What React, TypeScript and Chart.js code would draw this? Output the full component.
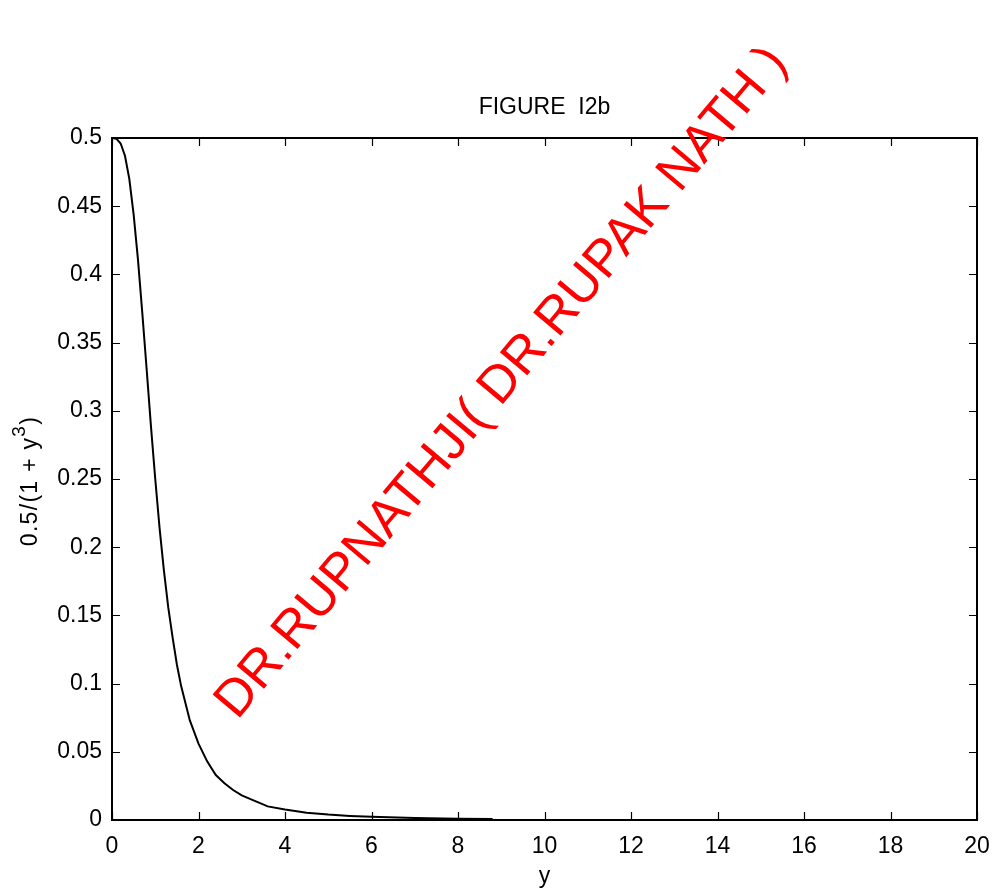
import React, { useEffect, useRef } from "react";
import { Chart, registerables } from "chart.js";

Chart.register(...registerables);

const xValues = [0, 0.1, 0.2, 0.3, 0.4, 0.5, 0.6, 0.7, 0.8, 0.9, 1.0, 1.1, 1.2, 1.3, 1.4, 1.5, 1.6, 1.8, 2.0, 2.2, 2.4, 2.6, 2.8, 3.0, 3.3, 3.6, 4.0, 4.5, 5.0, 5.5, 6.0, 7.0, 8.0, 8.8];
const yValues = [0.5, 0.4995, 0.496, 0.487, 0.47, 0.444, 0.411, 0.372, 0.331, 0.289, 0.25, 0.214, 0.183, 0.156, 0.134, 0.114, 0.098, 0.073, 0.056, 0.043, 0.033, 0.027, 0.022, 0.018, 0.014, 0.01, 0.0077, 0.0054, 0.004, 0.003, 0.0023, 0.0015, 0.001, 0.0007];
const xTicks = [0, 2, 4, 6, 8, 10, 12, 14, 16, 18, 20];
const yTicks = [0, 0.05, 0.1, 0.15, 0.2, 0.25, 0.3, 0.35, 0.4, 0.45, 0.5];
const titleText = "FIGURE  I2b";
const xLabel = "y";
const yLabelMain = "0.5/(1 + y";
const yLabelSup = "3";
const yLabelEnd = ")";
const watermark = "DR.RUPNATHJI( DR.RUPAK NATH )";

const FONT = "'Liberation Sans', Arial, Helvetica, sans-serif";

const decorPlugin = {
  id: "decor",
  afterDraw(chart: any) {
    const { ctx, chartArea } = chart;
    const { left, right, top, bottom } = chartArea;
    const xs = chart.scales.x;
    const ys = chart.scales.y;
    ctx.save();
    ctx.strokeStyle = "#000";
    ctx.lineWidth = 2;
    ctx.strokeRect(left, top, right - left, bottom - top);
    const tl = 8;
    ctx.beginPath();
    xTicks.forEach((v) => {
      const px = Math.round(xs.getPixelForValue(v)) + 0.5;
      ctx.moveTo(px, bottom);
      ctx.lineTo(px, bottom - tl);
      ctx.moveTo(px, top);
      ctx.lineTo(px, top + tl);
    });
    yTicks.forEach((v) => {
      const py = Math.round(ys.getPixelForValue(v)) + 0.5;
      ctx.moveTo(left, py);
      ctx.lineTo(left + tl, py);
      ctx.moveTo(right, py);
      ctx.lineTo(right - tl, py);
    });
    ctx.lineWidth = 1.2;
    ctx.stroke();

    // title
    ctx.fillStyle = "#000";
    ctx.font = `23px ${FONT}`;
    ctx.textAlign = "center";
    ctx.textBaseline = "middle";
    ctx.fillText(titleText, (left + right) / 2, 108);

    // y label
    ctx.save();
    ctx.translate(37, 481);
    ctx.rotate(-Math.PI / 2);
    (ctx as any).letterSpacing = "1.3px";
    ctx.font = `23px ${FONT}`;
    const w1 = ctx.measureText(yLabelMain).width;
    ctx.font = `19px ${FONT}`;
    const w2 = ctx.measureText(yLabelSup).width;
    ctx.font = `23px ${FONT}`;
    const w3 = ctx.measureText(yLabelEnd).width;
    const total = w1 + w2 + w3;
    const x0 = -total / 2;
    ctx.textAlign = "left";
    ctx.textBaseline = "alphabetic";
    ctx.fillText(yLabelMain, x0, 0);
    ctx.font = `19px ${FONT}`;
    ctx.fillText(yLabelSup, x0 + w1, -12);
    ctx.font = `23px ${FONT}`;
    ctx.fillText(yLabelEnd, x0 + w1 + w2, 0);
    ctx.restore();

    // watermark
    ctx.save();
    ctx.translate(502, 383);
    ctx.rotate(-50 * Math.PI / 180);
    ctx.font = `52px ${FONT}`;
    ctx.fillStyle = "#ff0000";
    ctx.textAlign = "center";
    ctx.textBaseline = "middle";
    ctx.fillText(watermark, 0, 0);
    ctx.restore();
    ctx.restore();
  },
};

export default function App() {
  const ref = useRef<HTMLCanvasElement | null>(null);
  useEffect(() => {
    if (!ref.current) return;
    const chart = new Chart(ref.current, {
      type: "line",
      data: {
        datasets: [
          {
            data: xValues.map((x, i) => ({ x, y: yValues[i] })),
            borderColor: "#000",
            borderWidth: 2,
            pointRadius: 0,
            tension: 0,
            fill: false,
          },
        ],
      },
      options: {
        animation: false,
        responsive: false,
        maintainAspectRatio: false,
        layout: { padding: { top: 138, right: 15, left: 0, bottom: 0 } },
        plugins: { legend: { display: false }, tooltip: { enabled: false }, title: { display: false } },
        scales: {
          x: {
            type: "linear",
            min: 0,
            max: 20,
            afterFit: (s: any) => { s.height = 70; s.paddingLeft = 0; s.paddingRight = 0; },
            afterBuildTicks: (s: any) => { s.ticks = xTicks.map((v) => ({ value: v })); },
            ticks: { color: "#000", font: { size: 23, family: FONT }, padding: 13, maxRotation: 0, autoSkip: false },
            grid: { display: false, drawTicks: false },
            border: { display: false },
            title: { display: true, text: xLabel, color: "#000", font: { size: 23, family: FONT }, padding: { top: 0, bottom: 0 } },
          },
          y: {
            type: "linear",
            min: 0,
            max: 0.5,
            afterFit: (s: any) => { s.width = 112; s.paddingTop = 0; s.paddingBottom = 0; },
            afterBuildTicks: (s: any) => { s.ticks = yTicks.map((v) => ({ value: v })); },
            ticks: { color: "#000", font: { size: 23, family: FONT }, padding: 10, autoSkip: false, callback: (v: any) => String(Number(Number(v).toFixed(2))) },
            grid: { display: false, drawTicks: false },
            border: { display: false },
          },
        },
      },
      plugins: [decorPlugin],
    } as any);
    return () => chart.destroy();
  }, []);
  return (
    <div style={{ position: "fixed", left: 0, top: 0, width: 992, height: 890, background: "#fff" }}>
      <canvas ref={ref} width={992} height={890} style={{ width: 992, height: 890, display: "block" }} />
    </div>
  );
}
